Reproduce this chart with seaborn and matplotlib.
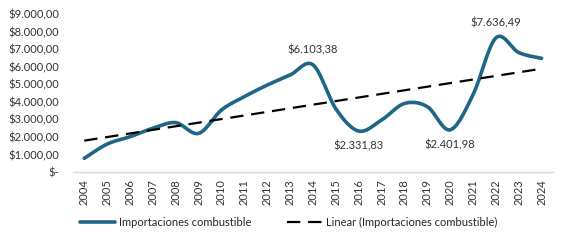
import numpy as np
import matplotlib
matplotlib.use("Agg")
import matplotlib.pyplot as plt
import seaborn as sns

years = [str(y) for y in range(2004, 2025)]
importaciones = [780, 1590, 2010, 2490, 2810, 2200, 3530, 4290, 4950, 5520,
                 6103.38, 3600, 2331.83, 2960, 3900, 3720, 2401.98, 4400,
                 7636.49, 6800, 6470]
etiquetas = {2014: "$6.103,38", 2016: "$2.331,83", 2020: "$2.401,98", 2022: "$7.636,49"}
y_ticks = [0, 1000, 2000, 3000, 4000, 5000, 6000, 7000, 8000, 9000]


def fmt_money(v):
    if v == 0:
        return "$-"
    s = f"{v:,.2f}".replace(",", "X").replace(".", ",").replace("X", ".")
    return "$" + s


def smooth(x, y, n=30):
    # curva suavizada tipo Excel (bezier con tangentes catmull-rom)
    x = np.asarray(x, float)
    y = np.asarray(y, float)
    px = np.concatenate([[x[0]], x, [x[-1]]])
    py = np.concatenate([[y[0]], y, [y[-1]]])
    xs, ys = [], []
    t = np.linspace(0, 1, n)
    for i in range(1, len(px) - 2):
        p0 = np.array([px[i], py[i]])
        p3 = np.array([px[i + 1], py[i + 1]])
        p1 = p0 + (np.array([px[i + 1], py[i + 1]]) - np.array([px[i - 1], py[i - 1]])) / 6
        p2 = p3 - (np.array([px[i + 2], py[i + 2]]) - np.array([px[i], py[i]])) / 6
        b = ((1 - t) ** 3)[:, None] * p0 + (3 * (1 - t) ** 2 * t)[:, None] * p1 \
            + (3 * (1 - t) * t ** 2)[:, None] * p2 + (t ** 3)[:, None] * p3
        xs.extend(b[:, 0])
        ys.extend(b[:, 1])
    return np.array(xs), np.array(ys)


sns.set_style("white")
plt.rcParams['font.family'] = ['Lato', 'DejaVu Sans']

fig = plt.figure(figsize=(5.69, 2.44), dpi=100)
ax = fig.add_axes([0.128, 0.295, 0.844, 0.648])

pos = np.arange(len(years))
sx, sy = smooth(pos, importaciones)
sns.lineplot(x=sx, y=sy, sort=False, ax=ax, color="#1f6587", linewidth=2.6,
             label="Importaciones combustible")

coef = np.polyfit(pos, importaciones, 1)
trend = np.polyval(coef, pos)
sns.lineplot(x=pos, y=trend, ax=ax, color="black", linewidth=1.6,
             linestyle=(0, (6, 3.5)), label="Linear (Importaciones combustible)")

for year, txt in etiquetas.items():
    i = year - 2004
    v = importaciones[i]
    above = year in (2014, 2022)
    ax.annotate(txt, (i, v), xytext=(0, 11 if above else -11), textcoords="offset points",
                ha="center", va="center", fontsize=8, color="#333333")

ax.set_xlim(-0.5, len(years) - 0.5)
ax.set_ylim(0, 9000)
ax.set_xticks(pos)
ax.set_xticklabels(years, rotation=90, fontsize=8, color="#333333")
ax.set_yticks(y_ticks)
ax.set_yticklabels([fmt_money(v) for v in y_ticks], fontsize=8, color="#333333")
ax.tick_params(axis="y", length=0, pad=10)
ax.tick_params(axis="x", length=0, pad=5)
for s in ["top", "right", "left"]:
    ax.spines[s].set_visible(False)
ax.spines["bottom"].set_color("#d9d9d9")
ax.spines["bottom"].set_linewidth(1)

h, l = ax.get_legend_handles_labels()
ax.get_legend().remove()
fig.legend(h, l, loc="center", bbox_to_anchor=(0.507, 0.09), ncol=2, frameon=False,
           fontsize=8, handlelength=3.2, columnspacing=3.2, handletextpad=0.3)

fig.savefig("out.png", dpi=100)
